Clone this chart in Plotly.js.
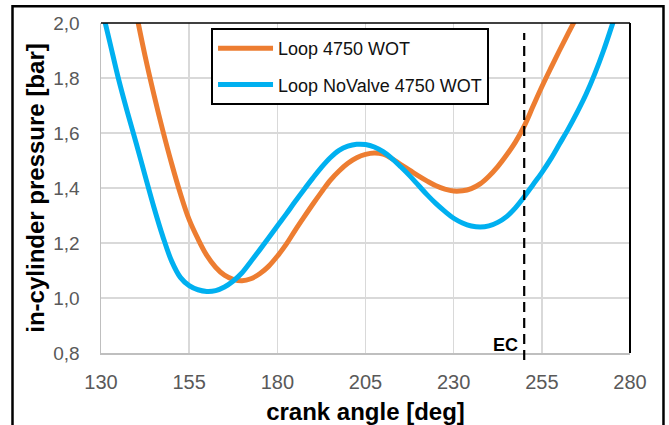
<!DOCTYPE html>
<html>
<head>
<meta charset="utf-8">
<script src="https://cdn.plot.ly/plotly-3.0.1.min.js"></script>
<style>
  html, body { margin: 0; padding: 0; background: #ffffff; }
  #chart { width: 669px; height: 425px; }
</style>
</head>
<body>
<div id="chart"></div>
<script>
// Loop 4750 WOT (orange), crank angle in deg
const loopAngle = [140.0, 142.5, 145.0, 147.5, 150.0, 152.5, 155.0, 157.5, 160.0, 162.5,
  165.0, 167.5, 170.0, 172.5, 175.0, 177.5, 180.0, 182.5, 185.0, 187.5,
  190.0, 192.5, 195.0, 197.5, 200.0, 202.5, 205.0, 207.5, 210.0, 212.5,
  215.0, 217.5, 220.0, 222.5, 225.0, 227.5, 230.0, 232.5, 235.0, 237.5,
  240.0, 242.5, 245.0, 247.5, 250.0, 252.5, 255.0, 257.5, 260.0, 262.5,
  265.0];
// in-cylinder pressure in bar
const loopPressure = [2.035, 1.88, 1.74, 1.61, 1.49, 1.38, 1.285, 1.215, 1.155, 1.112,
  1.083, 1.068, 1.063, 1.07, 1.088, 1.115, 1.152, 1.195, 1.245, 1.293,
  1.34, 1.385, 1.428, 1.462, 1.49, 1.51, 1.522, 1.527, 1.523, 1.507,
  1.485, 1.465, 1.444, 1.425, 1.408, 1.396, 1.389, 1.39, 1.398, 1.415,
  1.443, 1.478, 1.52, 1.567, 1.625, 1.697, 1.768, 1.835, 1.90, 1.963,
  2.025];

// Loop NoValve 4750 WOT (blue)
const noValveAngle = [130.0, 132.5, 135.0, 137.5, 140.0, 142.5, 145.0, 147.5, 150.0, 152.5,
  155.0, 157.5, 160.0, 162.5, 165.0, 167.5, 170.0, 172.5, 175.0, 177.5,
  180.0, 182.5, 185.0, 187.5, 190.0, 192.5, 195.0, 197.5, 200.0, 202.5,
  205.0, 207.5, 210.0, 212.5, 215.0, 217.5, 220.0, 222.5, 225.0, 227.5,
  230.0, 232.5, 235.0, 237.5, 240.0, 242.5, 245.0, 247.5, 250.0, 252.5,
  255.0, 257.5, 260.0, 262.5, 265.0, 267.5, 270.0, 272.5, 275.0, 277.5];
const noValvePressure = [2.065, 1.93, 1.795, 1.675, 1.562, 1.445, 1.33, 1.225, 1.135, 1.075,
  1.045, 1.03, 1.024, 1.027, 1.04, 1.062, 1.092, 1.133, 1.175, 1.218,
  1.262, 1.305, 1.35, 1.393, 1.435, 1.475, 1.51, 1.537, 1.552, 1.559,
  1.558, 1.549, 1.532, 1.507, 1.477, 1.445, 1.41, 1.375, 1.343, 1.315,
  1.29, 1.273, 1.262, 1.258, 1.262, 1.275, 1.296, 1.328, 1.368, 1.412,
  1.456, 1.505, 1.56, 1.615, 1.675, 1.74, 1.815, 1.90, 1.995, 2.09];

// exhaust close marker
const ecAngle = 250;
const ecLabel = 'EC';

const seriesNames = ['Loop 4750 WOT', 'Loop NoValve 4750 WOT'];
const xTicks = [130, 155, 180, 205, 230, 255, 280];
const yTicks = [0.8, 1.0, 1.2, 1.4, 1.6, 1.8, 2.0];

const FONT = 'Liberation Sans, Arial, sans-serif';

const traces = [
  {
    x: loopAngle, y: loopPressure, name: seriesNames[0], legendgroup: 'a',
    type: 'scatter', mode: 'lines',
    line: { color: '#ED7D31', width: 5, shape: 'spline', smoothing: 1 }
  },
  {
    x: noValveAngle, y: noValvePressure, name: seriesNames[1], legendgroup: 'b',
    type: 'scatter', mode: 'lines',
    line: { color: '#00B0F0', width: 5, shape: 'spline', smoothing: 1 }
  }
];

const layout = {
  width: 669, height: 425,
  margin: { l: 101, r: 39, t: 23, b: 72 },
  paper_bgcolor: '#ffffff', plot_bgcolor: '#ffffff',
  separators: ',.',
  font: { family: FONT, color: '#595959' },
  showlegend: true,
  legend: {
    x: 0.208, y: 0.985, xanchor: 'left', yanchor: 'top',
    bgcolor: '#ffffff', bordercolor: '#000000', borderwidth: 2,
    font: { family: FONT, size: 18, color: '#111111' },
    tracegroupgap: 10, itemwidth: 55
  },
  xaxis: {
    range: [130, 280], tickmode: 'array', tickvals: xTicks,
    showgrid: true, gridcolor: '#d9d9d9', gridwidth: 1.5,
    showline: true, linecolor: '#bfbfbf', linewidth: 1.5,
    zeroline: false, ticks: '',
    ticklabelstandoff: 10,
    tickfont: { family: FONT, size: 20, color: '#595959' },
    title: { text: 'crank angle [deg]', standoff: 14,
      font: { family: FONT, size: 24, color: '#000000', weight: 'bold' } }
  },
  yaxis: {
    range: [0.8, 2.0], tickmode: 'array', tickvals: yTicks, tickformat: '.1f',
    showgrid: true, gridcolor: '#d9d9d9', gridwidth: 1.5,
    showline: true, linecolor: '#bfbfbf', linewidth: 1.5,
    zeroline: false, ticks: '',
    ticklabelstandoff: 16,
    tickfont: { family: FONT, size: 19, color: '#595959' },
    title: { text: 'in-cylinder pressure [bar]', standoff: 2,
      font: { family: FONT, size: 24, color: '#000000', weight: 'bold' } }
  },
  shapes: [
    // outer frame
    { type: 'rect', xref: 'paper', yref: 'paper', x0: -0.1673, x1: 1.0633, y0: -0.4, y1: 1.0509,
      line: { color: '#000000', width: 2.5 }, fillcolor: 'rgba(0,0,0,0)', layer: 'above' },
    // plot area top and right edges
    { type: 'line', xref: 'paper', yref: 'paper', x0: 0, x1: 1, y0: 1, y1: 1,
      line: { color: '#000000', width: 1.5 }, layer: 'above' },
    { type: 'line', xref: 'paper', yref: 'paper', x0: 1, x1: 1, y0: 0, y1: 1,
      line: { color: '#000000', width: 2 }, layer: 'above' },
    // EC dashed line
    { type: 'line', xref: 'x', yref: 'paper', x0: ecAngle, x1: ecAngle, y0: -0.021, y1: 0.97,
      line: { color: '#000000', width: 2.2, dash: '10px,6px' }, layer: 'above' }
  ],
  annotations: [
    { x: ecAngle, xref: 'x', y: 0, yref: 'paper', xanchor: 'right', yanchor: 'bottom',
      xshift: -4, yshift: -4, showarrow: false, text: '<b>' + ecLabel + '</b>',
      font: { family: FONT, size: 18, color: '#000000' } }
  ]
};

Plotly.newPlot('chart', traces, layout, { displayModeBar: false, staticPlot: true });
</script>
</body>
</html>
